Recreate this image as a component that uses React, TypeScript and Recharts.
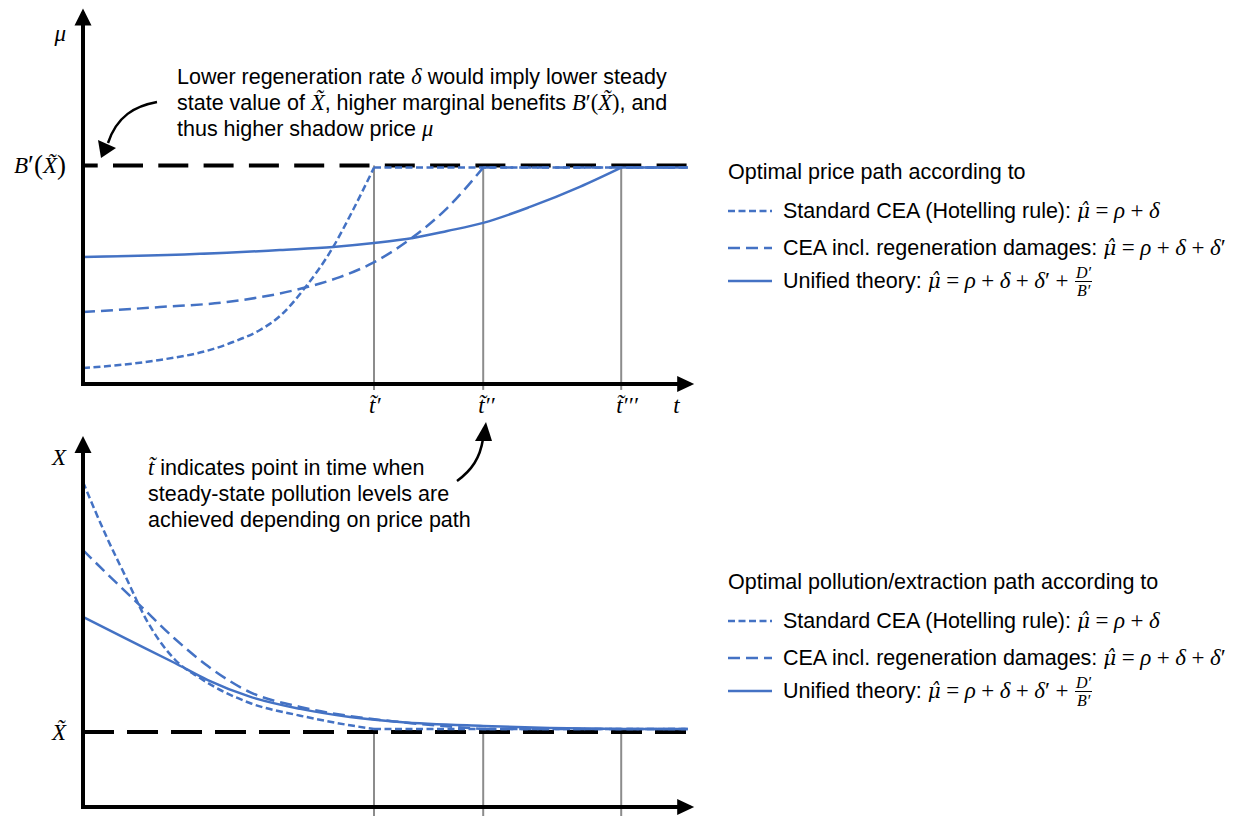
import React from 'react';
import { LineChart, Line, XAxis, YAxis, ReferenceLine, ReferenceDot } from 'recharts';

// ---------------- data ----------------
const X_MAX = 101.2; // end of time axis (arrow)
const T_END = 100.8; // end of drawn paths
const steadyTimes = [48.5, 66.7, 89.7]; // t', t'', t'''
const timeTicks = [48.5, 66.7, 89.7, 99.2];
const timeTickLabels = ['t̃′', 't̃′′', 't̃′′′', 't'];

// price panel (mu)
const PRICE_MAX = 170;
const B_LEVEL = 100;
const PRICE_STEADY = 99;
const priceAxisTicks = [100, 160.5];
const priceAxisLabels = ['B′(X̃)', 'μ'];

const stdPriceT = [0, 12.8, 21.2, 25, 29.5, 33, 36.7, 41.7, 45, 48.5];
const stdPriceV = [7.3, 11, 15.6, 19.2, 24.7, 31.5, 43, 62.7, 79.6, 99];
const regPriceT = [0, 12.8, 24, 36.7, 42.8, 48.3, 55, 60.7, 66.7];
const regPriceV = [32.9, 35.2, 37.5, 43.9, 48.9, 55.4, 67.2, 80.5, 99];
const uniPriceT = [0, 24, 32.8, 41.7, 48.5, 55, 60.7, 66.7, 74.5, 82.8, 89.7];
const uniPriceV = [58.1, 60, 61.3, 62.7, 64.5, 66.8, 70, 73.7, 81, 90.2, 99];

// stock panel (X)
const STOCK_MAX = 168;
const X_LEVEL = 34.3;
const STOCK_STEADY = 35.7;
const stockAxisTicks = [34.3, 160];
const stockAxisLabels = ['X̃', 'X'];

const stdStockT = [0, 4.2, 7, 10.7, 15.3, 19.5, 27.8, 36.2, 44.5, 48.5];
const stdStockV = [148.7, 122, 106, 85, 67.5, 59, 47.6, 41.8, 37.4, 35.7];
const regStockT = [0, 4.2, 9.8, 15.3, 20.8, 27.8, 36.2, 44.5, 52.8, 66.7];
const regStockV = [117.6, 106.2, 91.5, 77, 64.5, 52.6, 45.8, 41.6, 38.9, 35.7];
const uniStockT = [0, 7, 15.3, 20.8, 27.8, 36.2, 44.5, 52.8, 66.7, 77.8, 89.7];
const uniStockV = [87, 77.3, 65.9, 58.1, 50.5, 44.9, 41.2, 38.9, 37.1, 36.2, 35.7];

// legend texts
const priceLegendTitle = 'Optimal price path according to';
const stockLegendTitle = 'Optimal pollution/extraction path according to';
const seriesNames = ['Standard CEA (Hotelling rule):', 'CEA incl. regeneration damages:', 'Unified theory:'];
const seriesTerms = [['ρ', 'δ'], ['ρ', 'δ', 'δ′'], ['ρ', 'δ', 'δ′', 'D′/B′']];
const growthSymbol = 'μ̂';

// annotations
const priceNote = [
  'Lower regeneration rate $δ$ would imply lower steady',
  'state value of $X̃$, higher marginal benefits $B′(X̃)$, and',
  'thus higher shadow price $μ$',
];
const timeNote = [
  '$t̃$ indicates point in time when',
  'steady-state pollution levels are',
  'achieved depending on price path',
];

// ---------------- styles ----------------
const BLUE = '#4472C4';
const GREY = '#8c8c8c';
const SERIF = '"Liberation Serif", "DejaVu Serif", serif';
const SANS = '"Liberation Sans", Arial, "DejaVu Sans", sans-serif';
const TEXT_SIZE = 21.5;
const seriesDash = ['7 3.5', '12 6', undefined];

const zip = (ts: number[], vs: number[]) => ts.map((t, i) => ({ t, v: vs[i] }));

const priceSeries = [
  { curve: zip(stdPriceT, stdPriceV), from: steadyTimes[0] },
  { curve: zip(regPriceT, regPriceV), from: steadyTimes[1] },
  { curve: zip(uniPriceT, uniPriceV), from: steadyTimes[2] },
];
const stockSeries = [
  { curve: zip(stdStockT, stdStockV), from: steadyTimes[0] },
  { curve: zip(regStockT, regStockV), from: steadyTimes[1] },
  { curve: zip(uniStockT, uniStockV), from: steadyTimes[2] },
];

const LETTER = /^[A-Za-z\u03b1-\u03c9]/;
const tokens = (s: string) => s.match(/[A-Za-z\u03b1-\u03c9][\u0300-\u036f]*|[^A-Za-z\u03b1-\u03c9]+/g) || [];

const makeYTick = (ticks: number[], labels: string[]) => (props: any) => {
  const { x, y, payload } = props;
  const i = ticks.indexOf(payload.value);
  const label = labels[i] ?? '';
  return (
    <text x={x - 17} y={y} textAnchor="end" dominantBaseline="central" fontFamily={SERIF} fontSize={23} fill="#000">
      {tokens(label).map((p, k) => (
        <tspan key={k} fontStyle={LETTER.test(p) ? 'italic' : 'normal'} fontSize={/[()]/.test(p) ? 27 : 23}>{p}</tspan>
      ))}
    </text>
  );
};

const makeXTick = (ticks: number[], labels: string[]) => (props: any) => {
  const { x, y, payload } = props;
  const i = ticks.indexOf(payload.value);
  return (
    <text x={x - 5} y={y + 21} textAnchor="start" dominantBaseline="central" fontFamily={SERIF} fontStyle="italic" fontSize={23} fill="#000">
      {labels[i] ?? ''}
    </text>
  );
};

const ArrowRight = (p: any) => (
  <polygon points={`${p.cx + 4},${p.cy} ${p.cx - 13},${p.cy - 8} ${p.cx - 13},${p.cy + 8}`} fill="#000" />
);
const ArrowUp = (p: any) => (
  <polygon points={`${p.cx},${p.cy - 4} ${p.cx - 8.5},${p.cy + 13} ${p.cx + 8.5},${p.cy + 13}`} fill="#000" />
);
const Corner = (p: any) => <rect x={p.cx - 2} y={p.cy - 2} width={4} height={4} fill="#000" />;

function Panel(props: {
  height: number; marginTop: number; xAxisHeight: number; yMax: number;
  yTicks: number[]; yLabels: string[]; xTicks?: number[]; xLabels?: string[];
  level: number; levelDash: string; levelOffset: number; steady: number;
  series: { curve: { t: number; v: number }[]; from: number }[]; guideBottom: number;
}) {
  const p = props;
  return (
    <LineChart width={1252} height={p.height} margin={{ top: p.marginTop, right: 1252 - 690.2, bottom: 0, left: 0 }}>
      <XAxis
        type="number" dataKey="t" domain={[0, X_MAX]} allowDataOverflow
        ticks={p.xTicks ?? []} interval={0}
        tick={p.xTicks ? makeXTick(p.xTicks, p.xLabels ?? []) : false}
        tickLine={false} tickSize={0} tickMargin={0} height={p.xAxisHeight}
        axisLine={{ stroke: '#000', strokeWidth: 4 }}
      />
      <YAxis
        type="number" domain={[0, p.yMax]} allowDataOverflow
        ticks={p.yTicks} interval={0} tick={makeYTick(p.yTicks, p.yLabels)}
        tickLine={false} tickSize={0} tickMargin={0} width={83}
        axisLine={{ stroke: '#000', strokeWidth: 4 }}
      />
      {steadyTimes.map((tt) => (
        <ReferenceLine key={'g' + tt} segment={[{ x: tt, y: p.guideBottom }, { x: tt, y: p.level }]} stroke={GREY} strokeWidth={2} ifOverflow="visible" />
      ))}
      <ReferenceLine
        segment={[{ x: 0, y: p.level }, { x: T_END, y: p.level }]}
        stroke="#000" strokeWidth={4} strokeDasharray={p.levelDash} strokeDashoffset={p.levelOffset} ifOverflow="visible"
      />
      {p.series.map((s, i) => (
        <Line key={'c' + i} data={s.curve} dataKey="v" type="monotone" stroke={BLUE} strokeWidth={2.5}
          strokeDasharray={seriesDash[i]} dot={false} activeDot={false} isAnimationActive={false} />
      ))}
      {p.series.map((s, i) => (
        <Line key={'f' + i} data={[{ t: s.from, v: p.steady }, { t: T_END, v: p.steady }]} dataKey="v" type="linear"
          stroke={BLUE} strokeWidth={2.5} strokeDasharray={seriesDash[i]} dot={false} activeDot={false} isAnimationActive={false} />
      ))}
      <ReferenceDot x={X_MAX} y={0} r={0} shape={ArrowRight} ifOverflow="visible" />
      <ReferenceDot x={0} y={p.yMax} r={0} shape={ArrowUp} ifOverflow="visible" />
      <ReferenceDot x={0} y={0} r={0} shape={Corner} ifOverflow="visible" />
    </LineChart>
  );
}

const MathText = ({ s, size }: { s: string; size: number }) => (
  <span style={{ fontFamily: SERIF, fontSize: size }}>
    {tokens(s).map((p, k) => (
      <span key={k} style={{ fontStyle: LETTER.test(p) ? 'italic' : 'normal' }}>{p}</span>
    ))}
  </span>
);

const Rich = ({ s }: { s: string }) => (
  <>
    {s.split('$').map((seg, i) => (i % 2 ? <MathText key={i} s={seg} size={22.5} /> : <span key={i}>{seg}</span>))}
  </>
);

const Op = ({ c }: { c: string }) => <span style={{ margin: '0 5.5px', fontStyle: 'normal' }}>{c}</span>;

const Frac = ({ s }: { s: string }) => {
  const [num, den] = s.split('/');
  return (
    <span style={{ display: 'inline-flex', flexDirection: 'column', alignItems: 'center', fontSize: 16, lineHeight: '15px', fontStyle: 'italic', margin: '0 1px' }}>
      <span style={{ borderBottom: '1px solid #000', padding: '0 1px 1px' }}>{num}</span>
      <span style={{ paddingTop: 1 }}>{den}</span>
    </span>
  );
};

const Formula = ({ terms }: { terms: string[] }) => (
  <span style={{ fontFamily: SERIF, fontSize: 23, display: 'inline-flex', alignItems: 'center' }}>
    <span style={{ fontFamily: '"DejaVu Serif", serif', fontStyle: 'italic', fontSize: 20 }}>{growthSymbol}</span>
    <Op c="=" />
    {terms.map((tm, i) => (
      <React.Fragment key={i}>
        {i > 0 && <Op c="+" />}
        {tm.includes('/') ? <Frac s={tm} /> : <MathText s={tm} size={23} />}
      </React.Fragment>
    ))}
  </span>
);

const Legend = ({ title, centers }: { title: string; centers: number[] }) => (
  <>
    <div style={{ position: 'absolute', left: 728, top: centers[0] - 13, lineHeight: '26px', fontFamily: SANS, fontSize: TEXT_SIZE, whiteSpace: 'nowrap' }}>
      {title}
    </div>
    {seriesNames.map((name, i) => (
      <div key={i} style={{ position: 'absolute', left: 728, top: centers[i + 1] - 20, height: 40, display: 'flex', alignItems: 'center', whiteSpace: 'nowrap' }}>
        <svg width={44} height={6} style={{ marginRight: 11 }}>
          <line x1={0} y1={3} x2={44} y2={3} stroke={BLUE} strokeWidth={2.5} strokeDasharray={seriesDash[i]} />
        </svg>
        <span style={{ fontFamily: SANS, fontSize: TEXT_SIZE, paddingRight: 6 }}>{name}</span>
        <Formula terms={seriesTerms[i]} />
      </div>
    ))}
  </>
);

const Note = ({ lines, left, top }: { lines: string[]; left: number; top: number }) => (
  <div style={{ position: 'absolute', left, top, fontFamily: SANS, fontSize: TEXT_SIZE, lineHeight: '26px', whiteSpace: 'nowrap', color: '#000' }}>
    {lines.map((l, i) => (
      <div key={i}><Rich s={l} /></div>
    ))}
  </div>
);

export default function App() {
  return (
    <div style={{ position: 'absolute', left: 0, top: 0, width: 1252, height: 816, background: '#fff', overflow: 'hidden' }}>
      <div style={{ position: 'absolute', left: 0, top: 0 }}>
        <Panel
          height={424} marginTop={12.4} xAxisHeight={40} yMax={PRICE_MAX}
          yTicks={priceAxisTicks} yLabels={priceAxisLabels} xTicks={timeTicks} xLabels={timeTickLabels}
          level={B_LEVEL} levelDash="30 15.3" levelOffset={15.3} steady={PRICE_STEADY}
          series={priceSeries} guideBottom={-2.7}
        />
      </div>
      <div style={{ position: 'absolute', left: 0, top: 424 }}>
        <Panel
          height={392} marginTop={15.9} xAxisHeight={9} yMax={STOCK_MAX}
          yTicks={stockAxisTicks} yLabels={stockAxisLabels}
          level={X_LEVEL} levelDash="31 13" levelOffset={0} steady={STOCK_STEADY}
          series={stockSeries} guideBottom={-5}
        />
      </div>
      <svg width={1252} height={816} style={{ position: 'absolute', left: 0, top: 0, pointerEvents: 'none' }}>
        <path d="M157,102 C135,106 117,116 108,143" fill="none" stroke="#000" strokeWidth={2.5} />
        <polygon points="101,158 98,140 116,148" fill="#000" />
        <path d="M457,481 C472,470 480,458 483,439" fill="none" stroke="#000" strokeWidth={2.5} />
        <polygon points="486,422 475,441 492,441" fill="#000" />
      </svg>
      <Note lines={priceNote} left={177} top={64} />
      <Note lines={timeNote} left={148} top={455} />
      <Legend title={priceLegendTitle} centers={[172, 211, 248, 281]} />
      <Legend title={stockLegendTitle} centers={[582, 621, 658, 691]} />
    </div>
  );
}
